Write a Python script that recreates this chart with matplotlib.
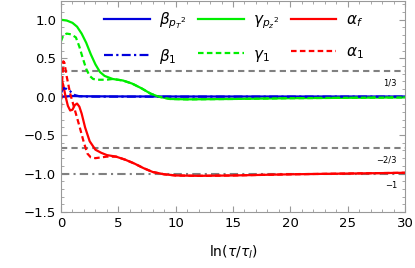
import matplotlib.pyplot as plt
from matplotlib.ticker import MultipleLocator

# alpha_f (solid red)
x_af = [0, 0.2, 0.4, 0.6, 0.8, 1.0, 1.2, 1.4, 1.6, 1.8, 2.1, 2.5, 3.0, 3.5, 4.0, 4.8,
        5.6, 6.4, 7.2, 8.0, 9.0, 10, 12, 15, 20, 25, 30]
y_af = [0.25, 0.15, 0.0, -0.12, -0.18, -0.17, -0.11, -0.09, -0.13, -0.22, -0.40, -0.58,
        -0.69, -0.73, -0.76, -0.78, -0.82, -0.87, -0.93, -0.98, -1.01, -1.025, -1.03,
        -1.025, -1.01, -1.0, -0.99]

# alpha_1 (dashed red)
x_a1 = [0, 0.1, 0.2, 0.3, 0.5, 0.8, 1.2, 1.6, 2.0, 2.3, 2.6, 3.0, 3.5, 4.0, 4.8,
        5.6, 6.4, 7.2, 8.0, 9.0, 10, 12, 15, 20, 25, 30]
y_a1 = [-0.15, 0.2, 0.46, 0.44, 0.26, 0.04, -0.17, -0.38, -0.60, -0.74, -0.79, -0.80,
        -0.79, -0.78, -0.78, -0.82, -0.87, -0.93, -0.98, -1.01, -1.025, -1.03,
        -1.025, -1.01, -1.0, -0.99]

# gamma_{pz^2} (solid green)
x_gz = [0, 0.5, 1.0, 1.4, 1.8, 2.2, 2.6, 3.0, 3.4, 3.8, 4.5, 5.4, 6.2, 7.0, 7.8, 8.5,
        9.5, 11, 15, 20, 25, 30]
y_gz = [1.0, 0.99, 0.96, 0.91, 0.82, 0.70, 0.55, 0.42, 0.32, 0.27, 0.23, 0.21, 0.17,
        0.11, 0.04, 0.0, -0.03, -0.035, -0.03, -0.02, -0.015, -0.01]

# gamma_1 (dashed green)
x_g1 = [0, 0.2, 0.5, 0.9, 1.3, 1.6, 1.9, 2.2, 2.5, 2.8, 3.2, 4.0, 4.5, 5.4, 6.2, 7.0,
        7.8, 8.5, 9.5, 11, 15, 20, 25, 30]
y_g1 = [0.72, 0.80, 0.82, 0.81, 0.77, 0.65, 0.50, 0.36, 0.27, 0.23, 0.22, 0.22, 0.23,
        0.21, 0.17, 0.11, 0.04, 0.0, -0.03, -0.035, -0.03, -0.02, -0.015, -0.01]

# beta_{pT^2} (solid blue)
x_bt = [0, 1, 2, 5, 10, 20, 30]
y_bt = [0.0, 0.008, 0.005, 0.003, 0.002, 0.002, 0.002]

# beta_1 (dash-dot blue)
x_b1 = [0, 0.2, 0.5, 0.8, 1.2, 1.6, 2.5, 10, 30]
y_b1 = [0.05, 0.11, 0.10, 0.07, 0.02, 0.005, 0.0, 0.0, 0.0]

fig = plt.figure(figsize=(4.15, 2.68), dpi=100)
ax = fig.add_axes([0.147, 0.209, 0.829, 0.789])

ax.axhline(1/3, color='#808080', ls=(0, (3, 2)), lw=1.5)
ax.axhline(-2/3, color='#808080', ls=(0, (3, 2)), lw=1.5)
ax.axhline(-1, color='#808080', ls=(0, (4, 2, 1, 2)), lw=1.5)

l_bt, = ax.plot(x_bt, y_bt, color='#0000dd', lw=1.6, label=r'$\beta_{{p_T}^2}$')
l_gz, = ax.plot(x_gz, y_gz, color='#00ee00', lw=1.6, label=r'$\gamma_{{p_z}^2}$')
l_af, = ax.plot(x_af, y_af, color='#ff0000', lw=1.6, label=r'$\alpha_f$')
l_b1, = ax.plot(x_b1, y_b1, color='#0000dd', lw=1.6, ls=(0, (4, 1.5, 1, 1.5)), label=r'$\beta_1$')
l_g1, = ax.plot(x_g1, y_g1, color='#00ee00', lw=1.6, ls=(0, (2.5, 1.5)), label=r'$\gamma_1$')
l_a1, = ax.plot(x_a1, y_a1, color='#ff0000', lw=1.6, ls=(0, (2.5, 1.5)), label=r'$\alpha_1$')

ax.text(29.3, 0.18, '1/3', fontsize=6, ha='right', va='center')
ax.text(29.3, -0.82, '\u22122/3', fontsize=6, ha='right', va='center')
ax.text(29.3, -1.16, '\u22121', fontsize=6, ha='right', va='center')

ax.set_xlim(0, 30)
ax.set_ylim(-1.5, 1.25)
ax.xaxis.set_major_locator(MultipleLocator(5))
ax.xaxis.set_minor_locator(MultipleLocator(1))
ax.yaxis.set_major_locator(MultipleLocator(0.5))
ax.yaxis.set_minor_locator(MultipleLocator(0.1))
ax.tick_params(which='both', direction='in', top=True, right=True, color='#999999',
               labelsize=9.5)
ax.tick_params(which='major', length=4)
ax.tick_params(which='minor', length=2)
ax.set_yticks([1.0, 0.5, 0.0, -0.5, -1.0, -1.5])
ax.set_yticklabels(['1.0', '0.5', '0.0', '\u22120.5', '\u22121.0', '\u22121.5'])
for s in ax.spines.values():
    s.set_color('#999999')

ax.set_xlabel(r'ln$(\tau/\tau_l)$', fontsize=10, labelpad=10)

handles = [l_bt, l_b1, l_gz, l_g1, l_af, l_a1]
ax.legend(handles=handles, labels=[h.get_label() for h in handles], ncol=3,
          loc='upper left', bbox_to_anchor=(0.085, 1.02), frameon=False,
          fontsize=11, handlelength=3.0, labelspacing=1.05, columnspacing=0.75,
          handletextpad=0.6)

fig.savefig('out.png', dpi=100)
